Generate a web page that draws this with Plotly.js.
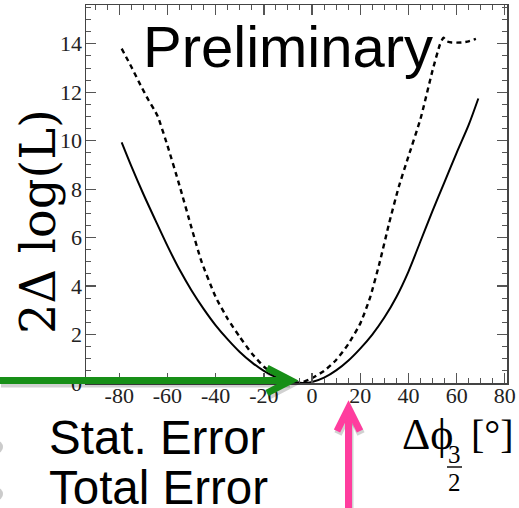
<!DOCTYPE html>
<html>
<head>
<meta charset="utf-8">
<script src="https://cdn.plot.ly/plotly-3.0.1.min.js"></script>
<style>
  html, body { margin: 0; padding: 0; background: #ffffff; }
  #chart { width: 519px; height: 508px; }
</style>
</head>
<body>
<div id="chart"></div>
<script>
// Likelihood scan: 2Δlog(L) versus Δϕ_{3/2} (degrees)
const statPhi = [-79, -75, -70, -65, -60, -55, -50, -45, -40, -35, -30, -25, -20, -15, -10, -5, -3, 0, 5, 10, 15, 20, 25, 30, 35, 40, 45, 50, 55, 60, 65, 69];
const statLL  = [9.93, 8.95, 7.8, 6.72, 5.66, 4.68, 3.82, 3.06, 2.38, 1.8, 1.28, 0.85, 0.5, 0.24, 0.08, 0.01, 0.0, 0.04, 0.22, 0.52, 0.92, 1.42, 2.0, 2.7, 3.55, 4.6, 5.85, 7.1, 8.3, 9.5, 10.65, 11.74];

const totPhi = [-79, -75, -71, -68, -65.6, -64, -60, -55, -50, -46, -40, -35, -30, -25, -20, -15, -10, -5, 0, 5, 10, 15, 20, 24, 28, 32, 36, 40, 45, 50, 53, 54.5, 56, 58, 62, 65, 68];
const totLL  = [13.8, 13.05, 12.26, 11.7, 11.3, 11.0, 9.8, 8.15, 6.4, 5.05, 3.55, 2.65, 1.9, 1.22, 0.68, 0.3, 0.08, 0.0, 0.2, 0.5, 0.95, 1.6, 2.45, 3.5, 4.95, 6.6, 8.1, 9.35, 10.9, 12.9, 13.95, 14.25, 14.1, 14.05, 14.05, 14.1, 14.2];

const xTickVals = [-80, -60, -40, -20, 0, 20, 40, 60, 80];
const xTickText = ['-80', '-60', '-40', '-20', '0', '20', '40', '60', '80'];
const yTickVals = [0, 2, 4, 6, 8, 10, 12, 14];
const yTickText = ['0', '2', '4', '6', '8', '10', '12', '14'];

// plot-area geometry in pixels, used to place overlay text and arrows
const W0 = 519, H0 = 508;
const M = { l: 86, r: 12, t: 5, b: 125 };
const PW = W0 - M.l - M.r, PH = H0 - M.t - M.b;
const px = x => (x - M.l) / PW;
const py = y => 1 - (y - M.t) / PH;
const pathOf = pts => pts.map((p, i) => (i ? 'L' : 'M') + px(p[0]).toFixed(5) + ',' + py(p[1]).toFixed(5)).join(' ');

const serif = 'Liberation Serif, Times New Roman, serif';
const wideSerif = 'DejaVu Serif, serif';
const sans = 'Liberation Sans, Arial, sans-serif';

const traces = [
  { x: statPhi, y: statLL, type: 'scatter', mode: 'lines', name: 'Stat. Error',
    line: { color: '#000000', width: 2, shape: 'spline', smoothing: 0.8 }, hoverinfo: 'skip' },
  { x: totPhi, y: totLL, type: 'scatter', mode: 'lines', name: 'Total Error',
    line: { color: '#000000', width: 2.4, dash: '5px,4px', shape: 'spline', smoothing: 0.5 }, hoverinfo: 'skip' }
];

const axisCommon = {
  showgrid: false, zeroline: false, showline: true, mirror: 'allticks',
  linecolor: '#444444', linewidth: 1.5,
  ticks: 'inside', ticklen: 10, tickwidth: 1.3, tickcolor: '#555555',
  tickfont: { family: serif, size: 22, color: '#222222' },
  tickmode: 'array'
};

function arrow(line, head, color, width) {
  return [
    { type: 'path', xref: 'paper', yref: 'paper', path: pathOf(line.map(p => [p[0] + 1, p[1] + 3])),
      line: { color: 'rgba(0,0,0,0.18)', width: width + 1 } },
    { type: 'path', xref: 'paper', yref: 'paper', path: pathOf(head.map(p => [p[0] + 1, p[1] + 3])),
      line: { color: 'rgba(0,0,0,0.18)', width: width + 1 } },
    { type: 'path', xref: 'paper', yref: 'paper', path: pathOf(line), line: { color: color, width: width } },
    { type: 'path', xref: 'paper', yref: 'paper', path: pathOf(head), line: { color: color, width: width } }
  ];
}

// faint bullet edges peeking in at the left border
const bullet = (cy) => ({
  type: 'circle', xref: 'paper', yref: 'paper', x0: px(-10), x1: px(3), y0: py(cy + 6.5), y1: py(cy - 6.5),
  fillcolor: 'rgba(140,140,140,0.45)', line: { width: 0 }
});

const shapes = [].concat(
  arrow([[0, 380.5], [289, 380.5]], [[267, 368], [291, 380.5], [267, 393]], '#178f17', 7),
  arrow([[348.5, 510], [348.5, 410]], [[337, 431], [348.5, 408], [360, 431]], '#ff3d9e', 7),
  [{ type: 'line', xref: 'paper', yref: 'paper', x0: px(447), x1: px(462), y0: py(467), y1: py(467),
     line: { color: '#111111', width: 1.5 } },
   bullet(447), bullet(494)]
);

const ann = (text, x, y, size, family, extra) => Object.assign({
  text: text, xref: 'paper', yref: 'paper', x: px(x), y: py(y), showarrow: false,
  xanchor: 'center', yanchor: 'middle', font: { family: family, size: size, color: '#000000' }
}, extra || {});

const annotations = [
  ann('Preliminary', 288, 46, 58, sans),
  ann('Stat. Error', 47, 437, 47.5, sans, { xanchor: 'left' }),
  ann('Total Error', 47, 487, 47.5, sans, { xanchor: 'left' }),
  ann('2Δ log(L)', 38, 222, 48, wideSerif, { textangle: -90 }),
  ann('Δϕ', 427, 434, 44, serif),
  ann('3', 454.5, 454, 25, serif),
  ann('2', 454.5, 482, 25, serif),
  ann('[°]', 492, 434, 40, serif)
];

const layout = {
  width: W0, height: H0, margin: M,
  paper_bgcolor: '#ffffff', plot_bgcolor: '#ffffff',
  showlegend: false,
  xaxis: Object.assign({}, axisCommon, {
    range: [-93.8, 80.9], tickvals: xTickVals, ticktext: xTickText, ticklabelstandoff: -8,
    minor: { ticks: 'inside', ticklen: 5, tickwidth: 1, tickcolor: '#555555', dtick: 5, tick0: 0 }
  }),
  yaxis: Object.assign({}, axisCommon, {
    range: [0, 15.6], tickvals: yTickVals, ticktext: yTickText, ticklabelstandoff: -2,
    minor: { ticks: 'inside', ticklen: 5, tickwidth: 1, tickcolor: '#555555', dtick: 0.5, tick0: 0 }
  }),
  shapes: shapes,
  annotations: annotations
};

Plotly.newPlot('chart', traces, layout, { staticPlot: true, displayModeBar: false });
</script>
</body>
</html>
